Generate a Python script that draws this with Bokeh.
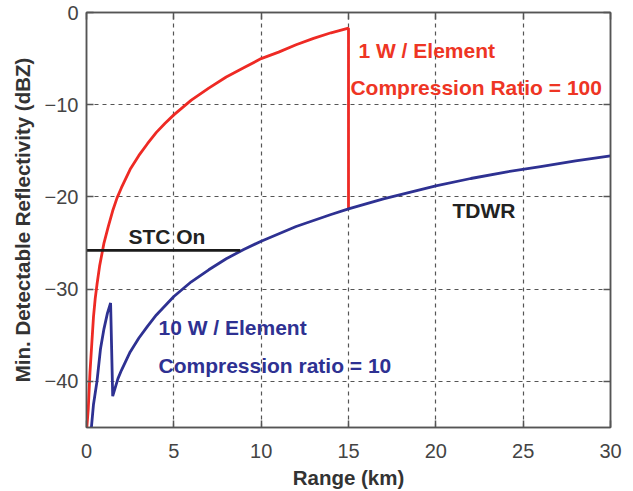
from bokeh.plotting import figure
from bokeh.models import LinearAxis, FixedTicker, Range1d
from bokeh.embed import file_html
from bokeh.resources import INLINE
from bokeh.core.properties import value

# Data
red_x = [0.02, 0.1, 0.2, 0.3, 0.4, 0.5, 0.6, 0.75, 0.9, 1.0, 1.25, 1.5, 1.75, 2, 2.5, 3, 3.5, 4, 4.5, 5,
         6, 7, 8, 9, 10, 11, 12, 13, 14, 15, 15]
red_y = [-45, -43, -39, -36, -33, -31, -29.5, -27.5, -26, -25, -23.2, -21.5, -20.1, -19, -17, -15.5,
         -14.2, -13, -12, -11.1, -9.5, -8.2, -7, -6, -5.0, -4.3, -3.5, -2.8, -2.2, -1.7, -21.3]

blue_x = [0.28, 0.4, 0.6, 0.8, 1.0, 1.2, 1.38, 1.5, 1.8, 2, 2.5, 3, 3.5, 4, 4.5, 5, 6, 7, 8, 9, 10, 12,
          14, 15, 17, 20, 22, 24, 26, 28, 30]
blue_y = [-45, -42.5, -40, -36.5, -34.3, -32.6, -31.5, -41.6, -39.7, -38.8, -36.8, -35.3, -34.0, -32.8,
          -31.8, -30.8, -29.2, -27.9, -26.7, -25.7, -24.8, -23.2, -21.9, -21.3, -20.2, -18.8, -18.0,
          -17.3, -16.7, -16.1, -15.55]

stc_x = [0, 8.8]
stc_y = [-25.8, -25.8]

x_ticks = [0, 5, 10, 15, 20, 25, 30]
y_ticks = [-40, -30, -20, -10, 0]
y_tick_labels = {-40: "\u221240", -30: "\u221230", -20: "\u221220", -10: "\u221210", 0: "0"}

labels_text = ["1 W / Element", "Compression Ratio = 100", "TDWR", "STC On",
               "10 W / Element", "Compression ratio = 10"]
labels_x = [15.57, 15.11, 20.95, 2.40, 4.12, 4.12]
labels_y = [-4.1, -8.1, -21.5, -24.3, -34.2, -38.3]
labels_color = ["#ee3524", "#ee3524", "#222222", "#222222", "#2e3192", "#2e3192"]

RED = "#ee2a24"
BLUE = "#2e3192"
FONT = "Liberation Sans"

p = figure(width=633, height=491, output_backend="svg", toolbar_location=None,
           x_range=Range1d(0, 30), y_range=Range1d(-45, 0),
           min_border_left=86, min_border_right=23, min_border_top=12, min_border_bottom=62)
p.background_fill_color = "white"
p.border_fill_color = "white"
p.outline_line_color = "#555555"
p.outline_line_width = 1.5

for ax in (p.xaxis[0], p.yaxis[0]):
    ax.axis_line_color = "#555555"
    ax.axis_line_width = 1.5
    ax.major_tick_in = 7
    ax.major_tick_out = 0
    ax.major_tick_line_color = "#555555"
    ax.major_tick_line_width = 1.5
    ax.minor_tick_line_color = None
    ax.major_label_text_font = FONT
    ax.major_label_text_font_size = "20px"
    ax.major_label_text_color = "#444444"
    ax.axis_label_text_font = FONT
    ax.axis_label_text_font_size = "20.5px"
    ax.axis_label_text_font_style = "bold"
    ax.axis_label_text_color = "#333333"

p.xaxis[0].ticker = FixedTicker(ticks=x_ticks)
p.yaxis[0].ticker = FixedTicker(ticks=y_ticks)
p.yaxis[0].major_label_overrides = y_tick_labels
p.xaxis[0].axis_label = "Range (km)"
p.yaxis[0].axis_label = "Min. Detectable Reflectivity (dBZ)"
p.xaxis[0].major_label_standoff = 16
p.yaxis[0].major_label_standoff = 8
p.xaxis[0].axis_label_standoff = 5
p.yaxis[0].axis_label_standoff = 8

for loc, tk in (("right", y_ticks), ("above", x_ticks)):
    ax = LinearAxis(ticker=FixedTicker(ticks=tk), major_tick_in=7, major_tick_out=0,
                    major_tick_line_color="#555555", major_tick_line_width=1.5,
                    minor_tick_line_color=None, axis_line_color="#555555", axis_line_width=1.5,
                    major_label_overrides={t: "" for t in tk}, major_label_standoff=0)
    p.add_layout(ax, loc)

p.xgrid.ticker = FixedTicker(ticks=x_ticks[1:-1])
p.ygrid.ticker = FixedTicker(ticks=y_ticks[:-1])
for g in (p.xgrid[0], p.ygrid[0]):
    g.grid_line_color = "#555555"
    g.grid_line_dash = "4 4"
    g.grid_line_width = 1.2

p.line(red_x, red_y, line_color=RED, line_width=2.8)
p.line(blue_x, blue_y, line_color=BLUE, line_width=2.8)
p.line(stc_x, stc_y, line_color="#1a1a1a", line_width=2.8)

p.text(x=labels_x, y=labels_y, text=labels_text, text_color=labels_color,
       text_font=value(FONT), text_font_size="21px", text_font_style="bold",
       text_baseline="middle", text_align="left")

open("out.html", "w").write(file_html(p, INLINE))
